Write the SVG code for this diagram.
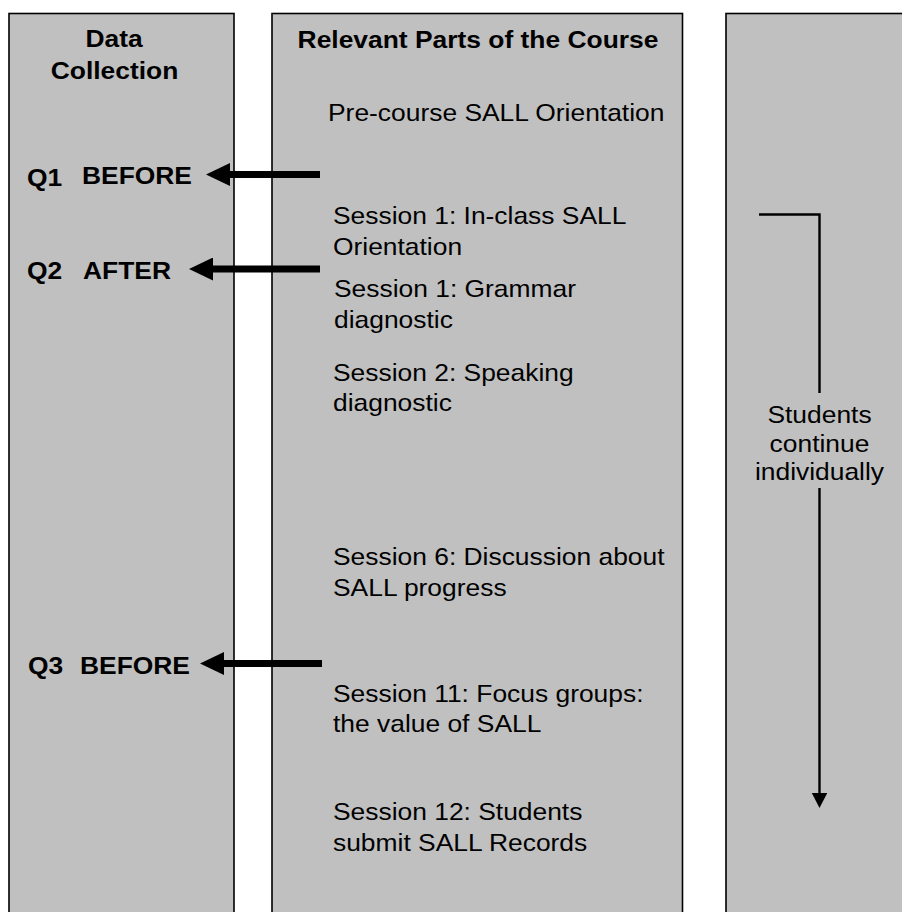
<svg xmlns="http://www.w3.org/2000/svg" width="902" height="912" viewBox="0 0 902 912">
<style>
.col{fill:#C0C0C0;stroke:#000;stroke-width:1.6}
.t{font-family:"Liberation Sans",Arial,sans-serif;font-size:24px;fill:#000}
.b{font-weight:bold}
.c{text-anchor:middle}
.thick{fill:none;stroke:#000;stroke-width:7}
.thin{fill:none;stroke:#000;stroke-width:2.4}
</style>
<defs>
<marker id="bighead" markerUnits="userSpaceOnUse" markerWidth="25" markerHeight="23" refX="1" refY="11.5" orient="auto">
<path d="M0,0 L24,11.5 L0,23 Z" fill="#000"/>
</marker>
<marker id="smallhead" markerUnits="userSpaceOnUse" markerWidth="16" markerHeight="16" refX="1" refY="7.7" orient="auto">
<path d="M0,0 L15,7.7 L0,15.4 Z" fill="#000"/>
</marker>
</defs>
<rect width="902" height="912" fill="#fff"/>

<g id="data-collection">
<rect class="col" x="9" y="13.5" width="225" height="920"/>
<text class="t b c" transform="matrix(1.1 0 0 1 114 47)">Data</text>
<text class="t b c" transform="matrix(1.1 0 0 1 114.5 79)">Collection</text>
<text class="t b" transform="matrix(1.1 0 0 1 27 186)">Q1</text>
<text class="t b" transform="matrix(1.1 0 0 1 82 184)">BEFORE</text>
<text class="t b" transform="matrix(1.1 0 0 1 27 278.5)">Q2</text>
<text class="t b" transform="matrix(1.1 0 0 1 83 279)">AFTER</text>
<text class="t b" transform="matrix(1.1 0 0 1 28 674)">Q3</text>
<text class="t b" transform="matrix(1.1 0 0 1 80 674)">BEFORE</text>
</g>

<g id="course">
<rect class="col" x="272" y="13.5" width="410.5" height="920"/>
<text class="t b c" transform="matrix(1.1 0 0 1 478 48)">Relevant Parts of the Course</text>
<text class="t" transform="matrix(1.1 0 0 1 328 121)">Pre-course SALL Orientation</text>
<text class="t" transform="matrix(1.1 0 0 1 333 224)">Session 1: In-class SALL</text>
<text class="t" transform="matrix(1.1 0 0 1 333 255)">Orientation</text>
<text class="t" transform="matrix(1.1 0 0 1 334 297)">Session 1: Grammar</text>
<text class="t" transform="matrix(1.1 0 0 1 334 327.5)">diagnostic</text>
<text class="t" transform="matrix(1.1 0 0 1 333 381)">Session 2: Speaking</text>
<text class="t" transform="matrix(1.1 0 0 1 333 411)">diagnostic</text>
<text class="t" transform="matrix(1.1 0 0 1 333 565)">Session 6: Discussion about</text>
<text class="t" transform="matrix(1.1 0 0 1 333 596)">SALL progress</text>
<text class="t" transform="matrix(1.1 0 0 1 333 701.5)">Session 11: Focus groups:</text>
<text class="t" transform="matrix(1.1 0 0 1 333 732)">the value of SALL</text>
<text class="t" transform="matrix(1.1 0 0 1 333 820)">Session 12: Students</text>
<text class="t" transform="matrix(1.1 0 0 1 333 851)">submit SALL Records</text>
</g>

<g id="individual">
<rect class="col" x="726" y="13.5" width="200" height="920"/>
<text class="t c" transform="matrix(1.1 0 0 1 819.5 423)">Students</text>
<text class="t c" transform="matrix(1.1 0 0 1 819.5 452)">continue</text>
<text class="t c" transform="matrix(1.1 0 0 1 819.5 480)">individually</text>
</g>

<g id="connectors">
<path class="thick" d="M320,174.5 H229" marker-end="url(#bighead)"/>
<path class="thick" d="M320,269 H212" marker-end="url(#bighead)"/>
<path class="thick" d="M322,663.5 H223" marker-end="url(#bighead)"/>
<path class="thin" d="M759,214.5 H819.5 V393"/>
<path class="thin" d="M819.5,488 V794" marker-end="url(#smallhead)"/>
</g>
</svg>
